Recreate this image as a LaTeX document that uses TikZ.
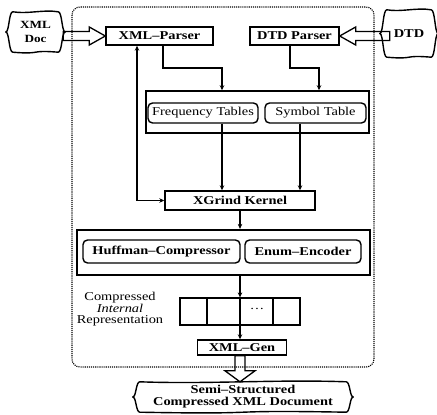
\documentclass[tikz,border=0pt]{standalone}
\usepackage{fontspec}
\setmainfont{Liberation Serif}[FakeStretch=1.2]
\usetikzlibrary{arrows.meta,calc}

% Punched-tape outline (wavy top and bottom, curly sides) around a named node
\newcommand\tapeframe[1]{%
  \draw[tapeline] (#1.north west)
    .. controls ($(#1.north west)!0.33!(#1.north east)+(0,2.5)$) and ($(#1.north west)!0.67!(#1.north east)+(0,-2.5)$) .. (#1.north east)
    .. controls ($(#1.north east)+(4,0)$) and ($(#1.east)+(3.5,0)$) .. ($(#1.east)+(7,0)$)
    .. controls ($(#1.east)+(3.5,0)$) and ($(#1.south east)+(4,0)$) .. (#1.south east)
    .. controls ($(#1.south west)!0.33!(#1.south east)+(0,-2.5)$) and ($(#1.south west)!0.67!(#1.south east)+(0,2.5)$) .. (#1.south west)
    .. controls ($(#1.south west)+(-4,0)$) and ($(#1.west)+(-3.5,0)$) .. ($(#1.west)+(-7,0)$)
    .. controls ($(#1.west)+(-3.5,0)$) and ($(#1.north west)+(-4,0)$) .. (#1.north west) -- cycle;}

\begin{document}
\begin{tikzpicture}[x=1pt,y=-1pt,
  every node/.style={inner sep=0pt, font=\fontsize{12}{13}\selectfont},
  box/.style={draw, line width=1.4pt, minimum height=18},
  rbox/.style={box, rounded corners=4.5pt},
  bold/.style={font=\fontsize{12}{13}\selectfont\bfseries},
  conn/.style={line width=1.2pt, -{Stealth[length=5pt,width=4.5pt]}},
  conntwo/.style={line width=1.2pt, {Stealth[length=5pt,width=4.5pt]}-{Stealth[length=5pt,width=4.5pt]}},
  hollow/.style={line width=1.3pt, line join=miter},
  tapeline/.style={line width=1.4pt, line join=round},
  border/.style={densely dotted, line width=1.1pt, rounded corners=8pt}]

\useasboundingbox (0,0) rectangle (437,415);
\fill[white] (0,0) rectangle (437,415);

% system boundary
\draw[border] (72,7) rectangle (374,367);

% parsers
\node[box,bold,minimum width=107] (parser) at (159.5,36) {XML--Parser};
\node[box,bold,minimum width=89] (dtdp) at (294.5,36) {DTD Parser};

% tables
\node[box,minimum width=223,minimum height=42,line width=1.5pt] (tables) at (257.5,112) {};
\node[rbox,minimum width=110,minimum height=20] (freq) at (203,113) {Frequency Tables};
\node[rbox,minimum width=101,minimum height=20] (sym) at (315.5,113) {Symbol Table};

% kernel
\node[box,bold,minimum width=150,minimum height=19] (kernel) at (240,200.5) {XGrind Kernel};

% encoders
\node[box,minimum width=293,minimum height=45,line width=2.2pt] (codecs) at (223.5,252.5) {};
\node[rbox,bold,minimum width=157,minimum height=23] (huff) at (161.5,251.5) {Huffman--Compressor};
\node[rbox,bold,minimum width=116,minimum height=23] (enum) at (303,251.5) {Enum--Encoder};

% internal representation array
\node[box,line width=1.2pt,minimum width=120,minimum height=27] (arr) at (240,311.5) {};
\draw[line width=1.2pt] ([xshift=-33]arr.north) -- ([xshift=-33]arr.south);
\draw[line width=1.2pt] ([xshift=33]arr.north) -- ([xshift=33]arr.south);
\node (dots) at (257,309) {\dots};
\node[align=center, font=\fontsize{12}{11.5}\selectfont] (lbl) at (120,309.5)
  {Compressed\\\textit{Internal}\\Representation};

% generator
\node[box,bold,minimum width=89,minimum height=15] (gen) at (242,347.5) {XML--Gen};

% input / output documents
\node[align=center, minimum width=45, minimum height=40, font=\fontsize{11}{14}\selectfont\bfseries] (doc) at (35.5,32) {XML\\Doc};
\tapeframe{doc}
\node[minimum width=44,minimum height=47, bold] (dtd) at (409,33.5) {DTD};
\tapeframe{dtd}
\node[align=center,minimum width=206,minimum height=30, font=\fontsize{12}{12}\selectfont\bfseries] (semi) at (243,397)
  {Semi--Structured\\Compressed XML Document};
\tapeframe{semi}

% routing columns and rows
\coordinate (colP) at (163,0);
\coordinate (colA) at (222,0);
\coordinate (colB) at (300,0);
\coordinate (colD1) at (290,0);
\coordinate (colD2) at (319,0);
\coordinate (colF) at (137,0);
\coordinate (rowJ) at (0,68);

\draw[conn] (parser.south -| colP) |- (rowJ -| colA) -- (tables.north -| colA);
\draw[conn] (dtdp.south -| colD1) |- (rowJ -| colD2) -- (tables.north -| colD2);
\draw[conn] (freq.south -| colA) -- (kernel.north -| colA);
\draw[conn] (sym.south -| colB) -- (kernel.north -| colB);
\draw[conntwo] (kernel.west) -| (parser.south -| colF);
\draw[conn] (kernel.south) -- (codecs.north -| kernel.south);
\draw[conn] (codecs.south -| arr.north) -- (arr.north);
\draw[conn] (arr.north) -- (gen.north -| arr.north);

% hollow block arrows
\coordinate (ha) at ($(doc.east)+(5,0)$);
\coordinate (hat) at (ha |- parser.west);
\draw[hollow] (parser.west) -- ++(-16,-9) -- ++(0,4.5) -- ($(hat)+(0,-4.5)$)
  -- ($(hat)+(0,4.5)$) -- ($(parser.west)+(-16,4.5)$) -- ++(0,4.5) -- cycle;

\coordinate (hb) at ($(dtd.west)+(3,0)$);
\coordinate (hbt) at (hb |- dtdp.east);
\draw[hollow] (dtdp.east) -- ++(16,-9) -- ++(0,4.5) -- ($(hbt)+(0,-4.5)$)
  -- ($(hbt)+(0,4.5)$) -- ($(dtdp.east)+(16,4.5)$) -- ++(0,4.5) -- cycle;

\coordinate (vt) at (semi.north -| arr.north);
\coordinate (vb) at (gen.south -| arr.north);
\draw[hollow] (vt) -- ++(-15,-11) -- ++(10,0) -- ($(vb)+(-5,0)$)
  -- ($(vb)+(5,0)$) -- ($(vt)+(5,-11)$) -- ++(10,0) -- cycle;
\end{tikzpicture}
\end{document}
